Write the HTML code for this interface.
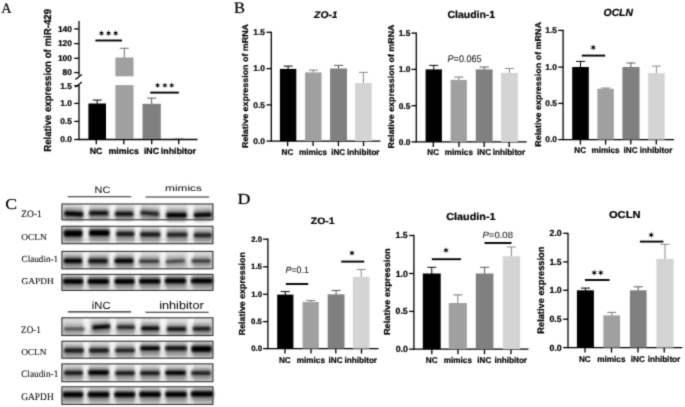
<!DOCTYPE html>
<html><head><meta charset="utf-8"><style>
html,body{margin:0;padding:0;background:#fff;}
svg{display:block;}
text{stroke:#000;stroke-width:0.22px;text-rendering:geometricPrecision;}
</style></head><body>
<svg width="685" height="407" viewBox="0 0 685 407">
<defs><filter id="soft" filterUnits="userSpaceOnUse" x="0" y="0" width="685" height="407" color-interpolation-filters="sRGB"><feConvolveMatrix order="3" kernelMatrix="0.0225 0.105 0.0225 0.105 0.49 0.105 0.0225 0.105 0.0225" edgeMode="duplicate"/></filter></defs>
<g filter="url(#soft)">
<rect width="685" height="407" fill="#fff"/>
<text x="1.16" y="12.90" font-family='"Liberation Serif", serif' font-size="14.55" font-weight="normal" font-style="normal" fill="#000" textLength="10.35" lengthAdjust="spacingAndGlyphs">A</text>
<line x1="79.00" y1="21.10" x2="79.00" y2="75.60" stroke="#000" stroke-width="1.3"/>
<line x1="74.20" y1="28.90" x2="79.00" y2="28.90" stroke="#000" stroke-width="1.3"/>
<line x1="74.20" y1="43.60" x2="79.00" y2="43.60" stroke="#000" stroke-width="1.3"/>
<line x1="74.20" y1="58.30" x2="79.00" y2="58.30" stroke="#000" stroke-width="1.3"/>
<line x1="74.20" y1="72.60" x2="79.00" y2="72.60" stroke="#000" stroke-width="1.3"/>
<text x="57.93" y="31.79" font-family='"Liberation Sans", sans-serif' font-size="8.40" font-weight="bold" font-style="normal" fill="#000">140</text>
<text x="57.93" y="46.49" font-family='"Liberation Sans", sans-serif' font-size="8.40" font-weight="bold" font-style="normal" fill="#000">120</text>
<text x="57.93" y="61.19" font-family='"Liberation Sans", sans-serif' font-size="8.40" font-weight="bold" font-style="normal" fill="#000">100</text>
<text x="62.60" y="75.49" font-family='"Liberation Sans", sans-serif' font-size="8.40" font-weight="bold" font-style="normal" fill="#000">80</text>
<line x1="79.00" y1="84.90" x2="79.00" y2="140.15" stroke="#000" stroke-width="1.3"/>
<line x1="74.20" y1="85.70" x2="79.00" y2="85.70" stroke="#000" stroke-width="1.3"/>
<line x1="74.20" y1="103.40" x2="79.00" y2="103.40" stroke="#000" stroke-width="1.3"/>
<line x1="74.20" y1="121.40" x2="79.00" y2="121.40" stroke="#000" stroke-width="1.3"/>
<line x1="74.20" y1="139.50" x2="79.00" y2="139.50" stroke="#000" stroke-width="1.3"/>
<text x="60.16" y="88.55" font-family='"Liberation Sans", sans-serif' font-size="8.40" font-weight="bold" font-style="normal" fill="#000">1.5</text>
<text x="60.27" y="106.29" font-family='"Liberation Sans", sans-serif' font-size="8.40" font-weight="bold" font-style="normal" fill="#000">1.0</text>
<text x="60.16" y="124.29" font-family='"Liberation Sans", sans-serif' font-size="8.40" font-weight="bold" font-style="normal" fill="#000">0.5</text>
<text x="60.27" y="142.39" font-family='"Liberation Sans", sans-serif' font-size="8.40" font-weight="bold" font-style="normal" fill="#000">0.0</text>
<line x1="75.40" y1="79.50" x2="81.80" y2="74.60" stroke="#000" stroke-width="1.3"/>
<line x1="75.40" y1="87.20" x2="81.80" y2="82.10" stroke="#000" stroke-width="1.3"/>
<line x1="79.00" y1="139.50" x2="197.50" y2="139.50" stroke="#000" stroke-width="1.3"/>
<line x1="96.30" y1="139.50" x2="96.30" y2="144.20" stroke="#000" stroke-width="1.3"/>
<line x1="123.80" y1="139.50" x2="123.80" y2="144.20" stroke="#000" stroke-width="1.3"/>
<line x1="151.70" y1="139.50" x2="151.70" y2="144.20" stroke="#000" stroke-width="1.3"/>
<line x1="178.70" y1="139.50" x2="178.70" y2="144.20" stroke="#000" stroke-width="1.3"/>
<line x1="97.20" y1="100.10" x2="97.20" y2="104.00" stroke="#000000" stroke-width="1.0"/>
<line x1="92.70" y1="100.10" x2="101.70" y2="100.10" stroke="#000000" stroke-width="1.0"/>
<rect x="88.40" y="103.50" width="17.60" height="35.50" fill="#000000"/>
<line x1="124.35" y1="48.30" x2="124.35" y2="58.00" stroke="#7a7a7a" stroke-width="1.1"/>
<line x1="119.80" y1="48.30" x2="128.90" y2="48.30" stroke="#7a7a7a" stroke-width="1.1"/>
<rect x="115.40" y="57.50" width="18.10" height="18.80" fill="#a0a0a0"/>
<rect x="115.40" y="85.10" width="18.10" height="53.90" fill="#a0a0a0"/>
<line x1="151.65" y1="98.10" x2="151.65" y2="104.30" stroke="#5a5a5a" stroke-width="1.0"/>
<line x1="147.15" y1="98.10" x2="156.15" y2="98.10" stroke="#5a5a5a" stroke-width="1.0"/>
<rect x="142.50" y="103.80" width="18.30" height="35.20" fill="#808080"/>
<line x1="174.20" y1="138.30" x2="183.70" y2="138.30" stroke="#999" stroke-width="1.0"/>
<line x1="95.40" y1="40.50" x2="122.00" y2="40.50" stroke="#000" stroke-width="1.9"/>
<line x1="150.20" y1="92.60" x2="178.80" y2="92.60" stroke="#000" stroke-width="1.9"/>
<polygon points="101.50,30.10 100.95,32.35 98.73,31.70 100.40,33.30 98.73,34.90 100.95,34.25 101.50,36.50 102.05,34.25 104.27,34.90 102.60,33.30 104.27,31.70 102.05,32.35" fill="#000"/><polygon points="108.60,30.10 108.05,32.35 105.83,31.70 107.50,33.30 105.83,34.90 108.05,34.25 108.60,36.50 109.15,34.25 111.37,34.90 109.70,33.30 111.37,31.70 109.15,32.35" fill="#000"/><polygon points="115.70,30.10 115.15,32.35 112.93,31.70 114.60,33.30 112.93,34.90 115.15,34.25 115.70,36.50 116.25,34.25 118.47,34.90 116.80,33.30 118.47,31.70 116.25,32.35" fill="#000"/>
<polygon points="157.60,82.20 157.05,84.45 154.83,83.80 156.50,85.40 154.83,87.00 157.05,86.35 157.60,88.60 158.15,86.35 160.37,87.00 158.70,85.40 160.37,83.80 158.15,84.45" fill="#000"/><polygon points="164.90,82.20 164.35,84.45 162.13,83.80 163.80,85.40 162.13,87.00 164.35,86.35 164.90,88.60 165.45,86.35 167.67,87.00 166.00,85.40 167.67,83.80 165.45,84.45" fill="#000"/><polygon points="171.70,82.20 171.15,84.45 168.93,83.80 170.60,85.40 168.93,87.00 171.15,86.35 171.70,88.60 172.25,86.35 174.47,87.00 172.80,85.40 174.47,83.80 172.25,84.45" fill="#000"/>
<text x="89.77" y="154.10" font-family='"Liberation Sans", sans-serif' font-size="8.80" font-weight="bold" font-style="normal" fill="#000">NC</text>
<text x="108.53" y="154.10" font-family='"Liberation Sans", sans-serif' font-size="8.80" font-weight="bold" font-style="normal" fill="#000">mimics</text>
<text x="143.93" y="154.10" font-family='"Liberation Sans", sans-serif' font-size="8.80" font-weight="bold" font-style="normal" fill="#000">iNC</text>
<text x="160.86" y="154.10" font-family='"Liberation Sans", sans-serif' font-size="8.80" font-weight="bold" font-style="normal" fill="#000">inhibitor</text>
<text transform="translate(50.70,151.85) rotate(-90)" x="0" y="0" font-family='"Liberation Sans", sans-serif' font-size="10.17" font-weight="bold" fill="#000" textLength="142.95" lengthAdjust="spacingAndGlyphs">Relative expression of miR-429</text>
<text x="233.92" y="13.15" font-family='"Liberation Serif", serif' font-size="15.96" font-weight="normal" font-style="normal" fill="#000" textLength="10.98" lengthAdjust="spacingAndGlyphs">B</text>
<line x1="271.30" y1="31.65" x2="271.30" y2="141.75" stroke="#000" stroke-width="1.3"/>
<line x1="266.50" y1="32.30" x2="271.30" y2="32.30" stroke="#000" stroke-width="1.3"/>
<line x1="266.50" y1="68.60" x2="271.30" y2="68.60" stroke="#000" stroke-width="1.3"/>
<line x1="266.50" y1="104.90" x2="271.30" y2="104.90" stroke="#000" stroke-width="1.3"/>
<line x1="266.50" y1="141.10" x2="271.30" y2="141.10" stroke="#000" stroke-width="1.3"/>
<line x1="271.30" y1="141.10" x2="380.40" y2="141.10" stroke="#000" stroke-width="1.3"/>
<line x1="287.60" y1="141.10" x2="287.60" y2="146.10" stroke="#000" stroke-width="1.3"/>
<line x1="313.10" y1="141.10" x2="313.10" y2="146.10" stroke="#000" stroke-width="1.3"/>
<line x1="338.40" y1="141.10" x2="338.40" y2="146.10" stroke="#000" stroke-width="1.3"/>
<line x1="363.50" y1="141.10" x2="363.50" y2="146.10" stroke="#000" stroke-width="1.3"/>
<text x="253.26" y="35.15" font-family='"Liberation Sans", sans-serif' font-size="8.40" font-weight="bold" font-style="normal" fill="#000">1.5</text>
<text x="253.37" y="71.49" font-family='"Liberation Sans", sans-serif' font-size="8.40" font-weight="bold" font-style="normal" fill="#000">1.0</text>
<text x="253.26" y="107.79" font-family='"Liberation Sans", sans-serif' font-size="8.40" font-weight="bold" font-style="normal" fill="#000">0.5</text>
<text x="253.37" y="143.99" font-family='"Liberation Sans", sans-serif' font-size="8.40" font-weight="bold" font-style="normal" fill="#000">0.0</text>
<line x1="288.10" y1="66.10" x2="288.10" y2="69.40" stroke="#000000" stroke-width="1.0"/>
<line x1="283.60" y1="66.10" x2="292.60" y2="66.10" stroke="#000000" stroke-width="1.0"/>
<rect x="279.90" y="68.90" width="16.40" height="72.20" fill="#000000"/>
<line x1="313.30" y1="70.10" x2="313.30" y2="72.90" stroke="#7a7a7a" stroke-width="1.0"/>
<line x1="308.80" y1="70.10" x2="317.80" y2="70.10" stroke="#7a7a7a" stroke-width="1.0"/>
<rect x="305.10" y="72.40" width="16.40" height="68.70" fill="#a0a0a0"/>
<line x1="338.55" y1="65.40" x2="338.55" y2="69.00" stroke="#5a5a5a" stroke-width="1.0"/>
<line x1="334.05" y1="65.40" x2="343.05" y2="65.40" stroke="#5a5a5a" stroke-width="1.0"/>
<rect x="330.10" y="68.50" width="16.90" height="72.60" fill="#808080"/>
<line x1="363.40" y1="72.40" x2="363.40" y2="83.50" stroke="#8a8a8a" stroke-width="1.0"/>
<line x1="358.90" y1="72.40" x2="367.90" y2="72.40" stroke="#8a8a8a" stroke-width="1.0"/>
<rect x="355.10" y="83.00" width="16.60" height="58.10" fill="#d4d4d4"/>
<text x="281.55" y="154.60" font-family='"Liberation Sans", sans-serif' font-size="8.40" font-weight="bold" font-style="normal" fill="#000" textLength="11.77" lengthAdjust="spacingAndGlyphs">NC</text>
<text x="298.96" y="154.60" font-family='"Liberation Sans", sans-serif' font-size="8.40" font-weight="bold" font-style="normal" fill="#000" textLength="28.08" lengthAdjust="spacingAndGlyphs">mimics</text>
<text x="331.21" y="154.60" font-family='"Liberation Sans", sans-serif' font-size="8.40" font-weight="bold" font-style="normal" fill="#000" textLength="14.03" lengthAdjust="spacingAndGlyphs">iNC</text>
<text x="346.98" y="154.60" font-family='"Liberation Sans", sans-serif' font-size="8.40" font-weight="bold" font-style="normal" fill="#000" textLength="32.58" lengthAdjust="spacingAndGlyphs">inhibitor</text>
<text x="314.14" y="18.00" font-family='"Liberation Sans", sans-serif' font-size="9.60" font-weight="bold" font-style="italic" fill="#000" textLength="23.42" lengthAdjust="spacingAndGlyphs">ZO-1</text>
<text transform="translate(248.10,148.00) rotate(-90)" x="0" y="0" font-family='"Liberation Sans", sans-serif' font-size="8.43" font-weight="bold" fill="#000" textLength="124.02" lengthAdjust="spacingAndGlyphs">Relative expression of mRNA</text>
<line x1="416.30" y1="32.45" x2="416.30" y2="142.55" stroke="#000" stroke-width="1.3"/>
<line x1="411.50" y1="33.10" x2="416.30" y2="33.10" stroke="#000" stroke-width="1.3"/>
<line x1="411.50" y1="69.40" x2="416.30" y2="69.40" stroke="#000" stroke-width="1.3"/>
<line x1="411.50" y1="105.70" x2="416.30" y2="105.70" stroke="#000" stroke-width="1.3"/>
<line x1="411.50" y1="141.90" x2="416.30" y2="141.90" stroke="#000" stroke-width="1.3"/>
<line x1="416.30" y1="141.90" x2="526.70" y2="141.90" stroke="#000" stroke-width="1.3"/>
<line x1="433.30" y1="141.90" x2="433.30" y2="146.90" stroke="#000" stroke-width="1.3"/>
<line x1="459.00" y1="141.90" x2="459.00" y2="146.90" stroke="#000" stroke-width="1.3"/>
<line x1="484.20" y1="141.90" x2="484.20" y2="146.90" stroke="#000" stroke-width="1.3"/>
<line x1="509.20" y1="141.90" x2="509.20" y2="146.90" stroke="#000" stroke-width="1.3"/>
<text x="398.66" y="35.95" font-family='"Liberation Sans", sans-serif' font-size="8.40" font-weight="bold" font-style="normal" fill="#000">1.5</text>
<text x="398.77" y="72.29" font-family='"Liberation Sans", sans-serif' font-size="8.40" font-weight="bold" font-style="normal" fill="#000">1.0</text>
<text x="398.66" y="108.59" font-family='"Liberation Sans", sans-serif' font-size="8.40" font-weight="bold" font-style="normal" fill="#000">0.5</text>
<text x="398.77" y="144.79" font-family='"Liberation Sans", sans-serif' font-size="8.40" font-weight="bold" font-style="normal" fill="#000">0.0</text>
<line x1="433.75" y1="65.40" x2="433.75" y2="69.90" stroke="#000000" stroke-width="1.0"/>
<line x1="429.25" y1="65.40" x2="438.25" y2="65.40" stroke="#000000" stroke-width="1.0"/>
<rect x="425.60" y="69.40" width="16.30" height="72.50" fill="#000000"/>
<line x1="458.75" y1="77.10" x2="458.75" y2="80.40" stroke="#7a7a7a" stroke-width="1.0"/>
<line x1="454.25" y1="77.10" x2="463.25" y2="77.10" stroke="#7a7a7a" stroke-width="1.0"/>
<rect x="450.60" y="79.90" width="16.30" height="62.00" fill="#a0a0a0"/>
<line x1="484.20" y1="67.00" x2="484.20" y2="69.90" stroke="#5a5a5a" stroke-width="1.0"/>
<line x1="479.70" y1="67.00" x2="488.70" y2="67.00" stroke="#5a5a5a" stroke-width="1.0"/>
<rect x="475.80" y="69.40" width="16.80" height="72.50" fill="#808080"/>
<line x1="509.45" y1="68.50" x2="509.45" y2="73.40" stroke="#8a8a8a" stroke-width="1.0"/>
<line x1="504.95" y1="68.50" x2="513.95" y2="68.50" stroke="#8a8a8a" stroke-width="1.0"/>
<rect x="501.00" y="72.90" width="16.90" height="69.00" fill="#d4d4d4"/>
<text x="427.25" y="155.40" font-family='"Liberation Sans", sans-serif' font-size="8.40" font-weight="bold" font-style="normal" fill="#000" textLength="11.77" lengthAdjust="spacingAndGlyphs">NC</text>
<text x="444.86" y="155.40" font-family='"Liberation Sans", sans-serif' font-size="8.40" font-weight="bold" font-style="normal" fill="#000" textLength="28.08" lengthAdjust="spacingAndGlyphs">mimics</text>
<text x="477.01" y="155.40" font-family='"Liberation Sans", sans-serif' font-size="8.40" font-weight="bold" font-style="normal" fill="#000" textLength="14.03" lengthAdjust="spacingAndGlyphs">iNC</text>
<text x="492.68" y="155.40" font-family='"Liberation Sans", sans-serif' font-size="8.40" font-weight="bold" font-style="normal" fill="#000" textLength="32.58" lengthAdjust="spacingAndGlyphs">inhibitor</text>
<text x="447.47" y="18.00" font-family='"Liberation Sans", sans-serif' font-size="10.20" font-weight="bold" font-style="normal" fill="#000" textLength="47.72" lengthAdjust="spacingAndGlyphs">Claudin-1</text>
<text transform="translate(393.70,148.40) rotate(-90)" x="0" y="0" font-family='"Liberation Sans", sans-serif' font-size="8.43" font-weight="bold" fill="#000" textLength="123.92" lengthAdjust="spacingAndGlyphs">Relative expression of mRNA</text>
<text style="stroke-width:0.08px" x="447.57" y="61.75" font-family='"Liberation Sans", sans-serif' font-size="9.75" font-style="italic" fill="#222" textLength="6.04" lengthAdjust="spacingAndGlyphs">P</text><text style="stroke-width:0.08px" x="453.61" y="61.75" font-family='"Liberation Sans", sans-serif' font-size="9.75" fill="#222" textLength="27.93" lengthAdjust="spacingAndGlyphs">=0.065</text>
<line x1="563.10" y1="29.75" x2="563.10" y2="140.25" stroke="#000" stroke-width="1.3"/>
<line x1="558.30" y1="30.40" x2="563.10" y2="30.40" stroke="#000" stroke-width="1.3"/>
<line x1="558.30" y1="67.10" x2="563.10" y2="67.10" stroke="#000" stroke-width="1.3"/>
<line x1="558.30" y1="103.40" x2="563.10" y2="103.40" stroke="#000" stroke-width="1.3"/>
<line x1="558.30" y1="139.60" x2="563.10" y2="139.60" stroke="#000" stroke-width="1.3"/>
<line x1="563.10" y1="139.60" x2="674.00" y2="139.60" stroke="#000" stroke-width="1.3"/>
<line x1="580.40" y1="139.60" x2="580.40" y2="144.60" stroke="#000" stroke-width="1.3"/>
<line x1="605.60" y1="139.60" x2="605.60" y2="144.60" stroke="#000" stroke-width="1.3"/>
<line x1="630.80" y1="139.60" x2="630.80" y2="144.60" stroke="#000" stroke-width="1.3"/>
<line x1="656.30" y1="139.60" x2="656.30" y2="144.60" stroke="#000" stroke-width="1.3"/>
<text x="545.26" y="33.25" font-family='"Liberation Sans", sans-serif' font-size="8.40" font-weight="bold" font-style="normal" fill="#000">1.5</text>
<text x="545.37" y="69.99" font-family='"Liberation Sans", sans-serif' font-size="8.40" font-weight="bold" font-style="normal" fill="#000">1.0</text>
<text x="545.26" y="106.29" font-family='"Liberation Sans", sans-serif' font-size="8.40" font-weight="bold" font-style="normal" fill="#000">0.5</text>
<text x="545.37" y="142.49" font-family='"Liberation Sans", sans-serif' font-size="8.40" font-weight="bold" font-style="normal" fill="#000">0.0</text>
<line x1="580.50" y1="61.40" x2="580.50" y2="67.50" stroke="#000000" stroke-width="1.0"/>
<line x1="576.00" y1="61.40" x2="585.00" y2="61.40" stroke="#000000" stroke-width="1.0"/>
<rect x="572.20" y="67.00" width="16.60" height="72.60" fill="#000000"/>
<line x1="605.60" y1="88.10" x2="605.60" y2="89.20" stroke="#7a7a7a" stroke-width="1.0"/>
<line x1="601.10" y1="88.10" x2="610.10" y2="88.10" stroke="#7a7a7a" stroke-width="1.0"/>
<rect x="597.40" y="88.70" width="16.40" height="50.90" fill="#a0a0a0"/>
<line x1="630.95" y1="63.00" x2="630.95" y2="67.50" stroke="#5a5a5a" stroke-width="1.0"/>
<line x1="626.45" y1="63.00" x2="635.45" y2="63.00" stroke="#5a5a5a" stroke-width="1.0"/>
<rect x="622.40" y="67.00" width="17.10" height="72.60" fill="#808080"/>
<line x1="656.40" y1="66.10" x2="656.40" y2="73.60" stroke="#8a8a8a" stroke-width="1.0"/>
<line x1="651.90" y1="66.10" x2="660.90" y2="66.10" stroke="#8a8a8a" stroke-width="1.0"/>
<rect x="648.10" y="73.10" width="16.60" height="66.50" fill="#d4d4d4"/>
<text x="574.35" y="153.20" font-family='"Liberation Sans", sans-serif' font-size="8.40" font-weight="bold" font-style="normal" fill="#000" textLength="11.77" lengthAdjust="spacingAndGlyphs">NC</text>
<text x="591.46" y="153.20" font-family='"Liberation Sans", sans-serif' font-size="8.40" font-weight="bold" font-style="normal" fill="#000" textLength="28.08" lengthAdjust="spacingAndGlyphs">mimics</text>
<text x="623.61" y="153.20" font-family='"Liberation Sans", sans-serif' font-size="8.40" font-weight="bold" font-style="normal" fill="#000" textLength="14.03" lengthAdjust="spacingAndGlyphs">iNC</text>
<text x="639.78" y="153.20" font-family='"Liberation Sans", sans-serif' font-size="8.40" font-weight="bold" font-style="normal" fill="#000" textLength="32.58" lengthAdjust="spacingAndGlyphs">inhibitor</text>
<text x="603.59" y="16.20" font-family='"Liberation Sans", sans-serif' font-size="10.31" font-weight="bold" font-style="italic" fill="#000" textLength="29.33" lengthAdjust="spacingAndGlyphs">OCLN</text>
<text transform="translate(540.50,146.80) rotate(-90)" x="0" y="0" font-family='"Liberation Sans", sans-serif' font-size="8.43" font-weight="bold" fill="#000" textLength="124.73" lengthAdjust="spacingAndGlyphs">Relative expression of mRNA</text>
<line x1="581.80" y1="55.60" x2="605.10" y2="55.60" stroke="#000" stroke-width="1.9"/>
<polygon points="593.20,44.10 592.62,46.40 590.34,45.75 592.05,47.40 590.34,49.05 592.62,48.40 593.20,50.70 593.78,48.40 596.06,49.05 594.35,47.40 596.06,45.75 593.78,46.40" fill="#000"/>
<text x="237.58" y="203.67" font-family='"Liberation Serif", serif' font-size="15.37" font-weight="normal" font-style="normal" fill="#000" textLength="12.94" lengthAdjust="spacingAndGlyphs">D</text>
<line x1="267.90" y1="238.55" x2="267.90" y2="349.25" stroke="#000" stroke-width="1.3"/>
<line x1="263.10" y1="239.20" x2="267.90" y2="239.20" stroke="#000" stroke-width="1.3"/>
<line x1="263.10" y1="266.80" x2="267.90" y2="266.80" stroke="#000" stroke-width="1.3"/>
<line x1="263.10" y1="294.30" x2="267.90" y2="294.30" stroke="#000" stroke-width="1.3"/>
<line x1="263.10" y1="321.60" x2="267.90" y2="321.60" stroke="#000" stroke-width="1.3"/>
<line x1="263.10" y1="348.60" x2="267.90" y2="348.60" stroke="#000" stroke-width="1.3"/>
<line x1="267.90" y1="348.60" x2="378.50" y2="348.60" stroke="#000" stroke-width="1.3"/>
<line x1="285.00" y1="348.60" x2="285.00" y2="353.60" stroke="#000" stroke-width="1.3"/>
<line x1="311.00" y1="348.60" x2="311.00" y2="353.60" stroke="#000" stroke-width="1.3"/>
<line x1="335.80" y1="348.60" x2="335.80" y2="353.60" stroke="#000" stroke-width="1.3"/>
<line x1="361.50" y1="348.60" x2="361.50" y2="353.60" stroke="#000" stroke-width="1.3"/>
<text x="251.18" y="241.88" font-family='"Liberation Sans", sans-serif' font-size="7.80" font-weight="bold" font-style="normal" fill="#000">2.0</text>
<text x="251.08" y="269.44" font-family='"Liberation Sans", sans-serif' font-size="7.80" font-weight="bold" font-style="normal" fill="#000">1.5</text>
<text x="251.18" y="296.98" font-family='"Liberation Sans", sans-serif' font-size="7.80" font-weight="bold" font-style="normal" fill="#000">1.0</text>
<text x="251.08" y="324.28" font-family='"Liberation Sans", sans-serif' font-size="7.80" font-weight="bold" font-style="normal" fill="#000">0.5</text>
<text x="251.18" y="351.28" font-family='"Liberation Sans", sans-serif' font-size="7.80" font-weight="bold" font-style="normal" fill="#000">0.0</text>
<line x1="285.30" y1="291.60" x2="285.30" y2="295.10" stroke="#000000" stroke-width="1.0"/>
<line x1="280.80" y1="291.60" x2="289.80" y2="291.60" stroke="#000000" stroke-width="1.0"/>
<rect x="277.20" y="294.60" width="16.20" height="54.00" fill="#000000"/>
<line x1="310.70" y1="300.50" x2="310.70" y2="302.40" stroke="#7a7a7a" stroke-width="1.0"/>
<line x1="306.20" y1="300.50" x2="315.20" y2="300.50" stroke="#7a7a7a" stroke-width="1.0"/>
<rect x="302.60" y="301.90" width="16.20" height="46.70" fill="#a0a0a0"/>
<line x1="336.10" y1="290.50" x2="336.10" y2="294.80" stroke="#5a5a5a" stroke-width="1.0"/>
<line x1="331.60" y1="290.50" x2="340.60" y2="290.50" stroke="#5a5a5a" stroke-width="1.0"/>
<rect x="327.70" y="294.30" width="16.80" height="54.30" fill="#808080"/>
<line x1="361.20" y1="269.50" x2="361.20" y2="277.30" stroke="#8a8a8a" stroke-width="1.0"/>
<line x1="356.70" y1="269.50" x2="365.70" y2="269.50" stroke="#8a8a8a" stroke-width="1.0"/>
<rect x="352.80" y="276.80" width="16.80" height="71.80" fill="#d4d4d4"/>
<text x="278.95" y="362.90" font-family='"Liberation Sans", sans-serif' font-size="8.40" font-weight="bold" font-style="normal" fill="#000" textLength="11.77" lengthAdjust="spacingAndGlyphs">NC</text>
<text x="296.86" y="362.90" font-family='"Liberation Sans", sans-serif' font-size="8.40" font-weight="bold" font-style="normal" fill="#000" textLength="28.08" lengthAdjust="spacingAndGlyphs">mimics</text>
<text x="328.61" y="362.90" font-family='"Liberation Sans", sans-serif' font-size="8.40" font-weight="bold" font-style="normal" fill="#000" textLength="14.03" lengthAdjust="spacingAndGlyphs">iNC</text>
<text x="344.48" y="362.90" font-family='"Liberation Sans", sans-serif' font-size="8.40" font-weight="bold" font-style="normal" fill="#000" textLength="32.58" lengthAdjust="spacingAndGlyphs">inhibitor</text>
<text x="310.79" y="224.41" font-family='"Liberation Sans", sans-serif' font-size="9.32" font-weight="bold" font-style="normal" fill="#000" textLength="23.91" lengthAdjust="spacingAndGlyphs">ZO-1</text>
<text transform="translate(244.90,335.19) rotate(-90)" x="0" y="0" font-family='"Liberation Sans", sans-serif' font-size="8.72" font-weight="bold" fill="#000" textLength="83.04" lengthAdjust="spacingAndGlyphs">Relative expression</text>
<text style="stroke-width:0.08px" x="285.58" y="272.86" font-family='"Liberation Sans", sans-serif' font-size="9.18" font-style="italic" fill="#222" textLength="5.89" lengthAdjust="spacingAndGlyphs">P</text><text style="stroke-width:0.08px" x="291.46" y="272.86" font-family='"Liberation Sans", sans-serif' font-size="9.18" fill="#222" textLength="17.42" lengthAdjust="spacingAndGlyphs">=0.1</text>
<line x1="285.80" y1="284.00" x2="308.20" y2="284.00" stroke="#000" stroke-width="1.9"/>
<polygon points="352.00,249.70 351.43,252.00 349.14,251.35 350.85,253.00 349.14,254.65 351.43,254.00 352.00,256.30 352.57,254.00 354.86,254.65 353.15,253.00 354.86,251.35 352.57,252.00" fill="#000"/>
<line x1="341.20" y1="261.60" x2="364.20" y2="261.60" stroke="#000" stroke-width="1.9"/>
<line x1="413.90" y1="234.85" x2="413.90" y2="349.85" stroke="#000" stroke-width="1.3"/>
<line x1="409.10" y1="235.50" x2="413.90" y2="235.50" stroke="#000" stroke-width="1.3"/>
<line x1="409.10" y1="273.50" x2="413.90" y2="273.50" stroke="#000" stroke-width="1.3"/>
<line x1="409.10" y1="311.40" x2="413.90" y2="311.40" stroke="#000" stroke-width="1.3"/>
<line x1="409.10" y1="349.20" x2="413.90" y2="349.20" stroke="#000" stroke-width="1.3"/>
<line x1="413.90" y1="349.20" x2="528.50" y2="349.20" stroke="#000" stroke-width="1.3"/>
<line x1="431.80" y1="349.20" x2="431.80" y2="354.20" stroke="#000" stroke-width="1.3"/>
<line x1="458.00" y1="349.20" x2="458.00" y2="354.20" stroke="#000" stroke-width="1.3"/>
<line x1="484.50" y1="349.20" x2="484.50" y2="354.20" stroke="#000" stroke-width="1.3"/>
<line x1="511.00" y1="349.20" x2="511.00" y2="354.20" stroke="#000" stroke-width="1.3"/>
<text x="395.51" y="238.48" font-family='"Liberation Sans", sans-serif' font-size="8.80" font-weight="bold" font-style="normal" fill="#000">1.5</text>
<text x="395.63" y="276.53" font-family='"Liberation Sans", sans-serif' font-size="8.80" font-weight="bold" font-style="normal" fill="#000">1.0</text>
<text x="395.51" y="314.43" font-family='"Liberation Sans", sans-serif' font-size="8.80" font-weight="bold" font-style="normal" fill="#000">0.5</text>
<text x="395.63" y="352.23" font-family='"Liberation Sans", sans-serif' font-size="8.80" font-weight="bold" font-style="normal" fill="#000">0.0</text>
<line x1="431.75" y1="267.30" x2="431.75" y2="274.00" stroke="#000000" stroke-width="1.0"/>
<line x1="427.25" y1="267.30" x2="436.25" y2="267.30" stroke="#000000" stroke-width="1.0"/>
<rect x="422.80" y="273.50" width="17.90" height="75.70" fill="#000000"/>
<line x1="457.85" y1="294.90" x2="457.85" y2="303.50" stroke="#7a7a7a" stroke-width="1.0"/>
<line x1="453.35" y1="294.90" x2="462.35" y2="294.90" stroke="#7a7a7a" stroke-width="1.0"/>
<rect x="448.80" y="303.00" width="18.10" height="46.20" fill="#a0a0a0"/>
<line x1="484.60" y1="267.30" x2="484.60" y2="274.00" stroke="#5a5a5a" stroke-width="1.0"/>
<line x1="480.10" y1="267.30" x2="489.10" y2="267.30" stroke="#5a5a5a" stroke-width="1.0"/>
<rect x="475.80" y="273.50" width="17.60" height="75.70" fill="#808080"/>
<line x1="511.45" y1="247.00" x2="511.45" y2="256.70" stroke="#8a8a8a" stroke-width="1.0"/>
<line x1="506.95" y1="247.00" x2="515.95" y2="247.00" stroke="#8a8a8a" stroke-width="1.0"/>
<rect x="502.80" y="256.20" width="17.30" height="93.00" fill="#d4d4d4"/>
<text x="425.75" y="363.30" font-family='"Liberation Sans", sans-serif' font-size="8.40" font-weight="bold" font-style="normal" fill="#000" textLength="11.77" lengthAdjust="spacingAndGlyphs">NC</text>
<text x="443.86" y="363.30" font-family='"Liberation Sans", sans-serif' font-size="8.40" font-weight="bold" font-style="normal" fill="#000" textLength="28.08" lengthAdjust="spacingAndGlyphs">mimics</text>
<text x="477.31" y="363.30" font-family='"Liberation Sans", sans-serif' font-size="8.40" font-weight="bold" font-style="normal" fill="#000" textLength="14.03" lengthAdjust="spacingAndGlyphs">iNC</text>
<text x="494.48" y="363.30" font-family='"Liberation Sans", sans-serif' font-size="8.40" font-weight="bold" font-style="normal" fill="#000" textLength="32.58" lengthAdjust="spacingAndGlyphs">inhibitor</text>
<text x="446.26" y="219.80" font-family='"Liberation Sans", sans-serif' font-size="10.07" font-weight="bold" font-style="normal" fill="#000" textLength="49.24" lengthAdjust="spacingAndGlyphs">Claudin-1</text>
<text transform="translate(389.50,335.12) rotate(-90)" x="0" y="0" font-family='"Liberation Sans", sans-serif' font-size="8.72" font-weight="bold" fill="#000" textLength="86.79" lengthAdjust="spacingAndGlyphs">Relative expression</text>
<polygon points="446.00,247.00 445.43,249.30 443.14,248.65 444.85,250.30 443.14,251.95 445.43,251.30 446.00,253.60 446.57,251.30 448.86,251.95 447.15,250.30 448.86,248.65 446.57,249.30" fill="#000"/>
<line x1="431.80" y1="259.20" x2="461.00" y2="259.20" stroke="#000" stroke-width="1.9"/>
<text style="stroke-width:0.08px" x="482.45" y="237.96" font-family='"Liberation Sans", sans-serif' font-size="9.04" font-style="italic" fill="#222" textLength="6.36" lengthAdjust="spacingAndGlyphs">P</text><text style="stroke-width:0.08px" x="488.82" y="237.96" font-family='"Liberation Sans", sans-serif' font-size="9.04" fill="#222" textLength="24.14" lengthAdjust="spacingAndGlyphs">=0.08</text>
<line x1="484.50" y1="243.00" x2="511.50" y2="243.00" stroke="#000" stroke-width="1.9"/>
<line x1="568.00" y1="232.65" x2="568.00" y2="348.25" stroke="#000" stroke-width="1.3"/>
<line x1="563.20" y1="233.30" x2="568.00" y2="233.30" stroke="#000" stroke-width="1.3"/>
<line x1="563.20" y1="261.90" x2="568.00" y2="261.90" stroke="#000" stroke-width="1.3"/>
<line x1="563.20" y1="290.30" x2="568.00" y2="290.30" stroke="#000" stroke-width="1.3"/>
<line x1="563.20" y1="319.20" x2="568.00" y2="319.20" stroke="#000" stroke-width="1.3"/>
<line x1="563.20" y1="347.60" x2="568.00" y2="347.60" stroke="#000" stroke-width="1.3"/>
<line x1="568.00" y1="347.60" x2="682.30" y2="347.60" stroke="#000" stroke-width="1.3"/>
<line x1="585.00" y1="347.60" x2="585.00" y2="352.60" stroke="#000" stroke-width="1.3"/>
<line x1="611.50" y1="347.60" x2="611.50" y2="352.60" stroke="#000" stroke-width="1.3"/>
<line x1="638.00" y1="347.60" x2="638.00" y2="352.60" stroke="#000" stroke-width="1.3"/>
<line x1="664.20" y1="347.60" x2="664.20" y2="352.60" stroke="#000" stroke-width="1.3"/>
<text x="549.53" y="236.33" font-family='"Liberation Sans", sans-serif' font-size="8.80" font-weight="bold" font-style="normal" fill="#000">2.0</text>
<text x="549.41" y="264.88" font-family='"Liberation Sans", sans-serif' font-size="8.80" font-weight="bold" font-style="normal" fill="#000">1.5</text>
<text x="549.53" y="293.33" font-family='"Liberation Sans", sans-serif' font-size="8.80" font-weight="bold" font-style="normal" fill="#000">1.0</text>
<text x="549.41" y="322.23" font-family='"Liberation Sans", sans-serif' font-size="8.80" font-weight="bold" font-style="normal" fill="#000">0.5</text>
<text x="549.53" y="350.63" font-family='"Liberation Sans", sans-serif' font-size="8.80" font-weight="bold" font-style="normal" fill="#000">0.0</text>
<line x1="585.40" y1="288.10" x2="585.40" y2="290.80" stroke="#000000" stroke-width="1.0"/>
<line x1="580.90" y1="288.10" x2="589.90" y2="288.10" stroke="#000000" stroke-width="1.0"/>
<rect x="576.90" y="290.30" width="17.00" height="57.30" fill="#000000"/>
<line x1="611.75" y1="312.40" x2="611.75" y2="315.90" stroke="#7a7a7a" stroke-width="1.0"/>
<line x1="607.25" y1="312.40" x2="616.25" y2="312.40" stroke="#7a7a7a" stroke-width="1.0"/>
<rect x="603.40" y="315.40" width="16.70" height="32.20" fill="#a0a0a0"/>
<line x1="638.25" y1="286.80" x2="638.25" y2="290.80" stroke="#5a5a5a" stroke-width="1.0"/>
<line x1="633.75" y1="286.80" x2="642.75" y2="286.80" stroke="#5a5a5a" stroke-width="1.0"/>
<rect x="629.90" y="290.30" width="16.70" height="57.30" fill="#808080"/>
<line x1="665.00" y1="244.30" x2="665.00" y2="259.40" stroke="#8a8a8a" stroke-width="1.0"/>
<line x1="660.50" y1="244.30" x2="669.50" y2="244.30" stroke="#8a8a8a" stroke-width="1.0"/>
<rect x="656.40" y="258.90" width="17.20" height="88.70" fill="#d4d4d4"/>
<text x="578.95" y="361.70" font-family='"Liberation Sans", sans-serif' font-size="8.40" font-weight="bold" font-style="normal" fill="#000" textLength="11.77" lengthAdjust="spacingAndGlyphs">NC</text>
<text x="597.36" y="361.70" font-family='"Liberation Sans", sans-serif' font-size="8.40" font-weight="bold" font-style="normal" fill="#000" textLength="28.08" lengthAdjust="spacingAndGlyphs">mimics</text>
<text x="630.81" y="361.70" font-family='"Liberation Sans", sans-serif' font-size="8.40" font-weight="bold" font-style="normal" fill="#000" textLength="14.03" lengthAdjust="spacingAndGlyphs">iNC</text>
<text x="647.68" y="361.70" font-family='"Liberation Sans", sans-serif' font-size="8.40" font-weight="bold" font-style="normal" fill="#000" textLength="32.58" lengthAdjust="spacingAndGlyphs">inhibitor</text>
<text x="608.94" y="218.20" font-family='"Liberation Sans", sans-serif' font-size="10.03" font-weight="bold" font-style="normal" fill="#000" textLength="31.61" lengthAdjust="spacingAndGlyphs">OCLN</text>
<text transform="translate(544.10,333.72) rotate(-90)" x="0" y="0" font-family='"Liberation Sans", sans-serif' font-size="9.45" font-weight="bold" fill="#000" textLength="87.09" lengthAdjust="spacingAndGlyphs">Relative expression</text>
<polygon points="594.20,269.40 593.62,271.70 591.34,271.05 593.05,272.70 591.34,274.35 593.62,273.70 594.20,276.00 594.78,273.70 597.06,274.35 595.35,272.70 597.06,271.05 594.78,271.70" fill="#000"/><polygon points="600.80,269.40 600.22,271.70 597.94,271.05 599.65,272.70 597.94,274.35 600.22,273.70 600.80,276.00 601.38,273.70 603.66,274.35 601.95,272.70 603.66,271.05 601.38,271.70" fill="#000"/>
<line x1="585.00" y1="280.00" x2="609.60" y2="280.00" stroke="#000" stroke-width="1.9"/>
<polygon points="651.20,231.60 650.62,233.90 648.34,233.25 650.05,234.90 648.34,236.55 650.62,235.90 651.20,238.20 651.78,235.90 654.06,236.55 652.35,234.90 654.06,233.25 651.78,233.90" fill="#000"/>
<line x1="639.90" y1="241.60" x2="663.40" y2="241.60" stroke="#000" stroke-width="1.9"/>
<text x="5.37" y="209.15" font-family='"Liberation Serif", serif' font-size="15.03" font-weight="normal" font-style="normal" fill="#000" textLength="11.80" lengthAdjust="spacingAndGlyphs">C</text>
<defs>
<linearGradient id="lanes" x1="61" x2="214" y1="0" y2="0" gradientUnits="userSpaceOnUse">
<stop offset="0" stop-color="#d4d4d4"/>
<stop offset="0.012" stop-color="#d0d0d0"/>
<stop offset="0.135" stop-color="#d4d4d4"/>
<stop offset="0.153" stop-color="#f2f2f2"/>
<stop offset="0.177" stop-color="#f2f2f2"/>
<stop offset="0.195" stop-color="#d4d4d4"/>
<stop offset="0.310" stop-color="#d4d4d4"/>
<stop offset="0.328" stop-color="#f2f2f2"/>
<stop offset="0.352" stop-color="#f2f2f2"/>
<stop offset="0.370" stop-color="#d4d4d4"/>
<stop offset="0.472" stop-color="#d4d4d4"/>
<stop offset="0.490" stop-color="#f2f2f2"/>
<stop offset="0.514" stop-color="#f2f2f2"/>
<stop offset="0.532" stop-color="#d4d4d4"/>
<stop offset="0.638" stop-color="#d4d4d4"/>
<stop offset="0.656" stop-color="#f2f2f2"/>
<stop offset="0.680" stop-color="#f2f2f2"/>
<stop offset="0.698" stop-color="#d4d4d4"/>
<stop offset="0.818" stop-color="#d4d4d4"/>
<stop offset="0.836" stop-color="#f2f2f2"/>
<stop offset="0.860" stop-color="#f2f2f2"/>
<stop offset="0.878" stop-color="#d4d4d4"/>
<stop offset="0.988" stop-color="#d0d0d0"/>
<stop offset="1" stop-color="#d0d0d0"/>
</linearGradient>
<linearGradient id="vshade" x1="0" x2="0" y1="0" y2="1">
<stop offset="0" stop-color="#fff" stop-opacity="0.25"/>
<stop offset="0.35" stop-color="#fff" stop-opacity="0"/>
<stop offset="0.75" stop-color="#000" stop-opacity="0.06"/>
<stop offset="1" stop-color="#000" stop-opacity="0.02"/>
</linearGradient>
<filter id="b1" x="-30%" y="-100%" width="160%" height="300%"><feGaussianBlur stdDeviation="0.85"/></filter>
<filter id="b2" x="-30%" y="-150%" width="160%" height="400%"><feGaussianBlur stdDeviation="1.6"/></filter>
</defs>
<text style="stroke-width:0.1px" x="21.20" y="217.35" font-family='"Liberation Serif", serif' font-size="9.82" font-weight="normal" font-style="normal" fill="#111" textLength="20.52" lengthAdjust="spacingAndGlyphs">ZO-1</text>
<text style="stroke-width:0.1px" x="21.26" y="239.76" font-family='"Liberation Serif", serif' font-size="9.08" font-weight="normal" font-style="normal" fill="#111" textLength="25.60" lengthAdjust="spacingAndGlyphs">OCLN</text>
<text style="stroke-width:0.1px" x="21.57" y="261.86" font-family='"Liberation Serif", serif' font-size="9.38" font-weight="normal" font-style="normal" fill="#111" textLength="36.62" lengthAdjust="spacingAndGlyphs">Claudin-1</text>
<text style="stroke-width:0.1px" x="21.56" y="284.16" font-family='"Liberation Serif", serif' font-size="8.93" font-weight="normal" font-style="normal" fill="#111" textLength="32.36" lengthAdjust="spacingAndGlyphs">GAPDH</text>
<text style="stroke-width:0.1px" x="21.11" y="332.85" font-family='"Liberation Serif", serif' font-size="10.12" font-weight="normal" font-style="normal" fill="#111" textLength="19.79" lengthAdjust="spacingAndGlyphs">ZO-1</text>
<text style="stroke-width:0.1px" x="21.17" y="354.76" font-family='"Liberation Serif", serif' font-size="9.08" font-weight="normal" font-style="normal" fill="#111" textLength="25.30" lengthAdjust="spacingAndGlyphs">OCLN</text>
<text style="stroke-width:0.1px" x="21.17" y="376.95" font-family='"Liberation Serif", serif' font-size="9.80" font-weight="normal" font-style="normal" fill="#111" textLength="37.13" lengthAdjust="spacingAndGlyphs">Claudin-1</text>
<text style="stroke-width:0.1px" x="21.16" y="399.55" font-family='"Liberation Serif", serif' font-size="10.27" font-weight="normal" font-style="normal" fill="#111" textLength="32.56" lengthAdjust="spacingAndGlyphs">GAPDH</text>
<text style="stroke-width:0.05px" x="94.61" y="192.81" font-family='"Liberation Sans", sans-serif' font-size="9.32" font-weight="normal" font-style="normal" fill="#111" textLength="15.71" lengthAdjust="spacingAndGlyphs">NC</text>
<text style="stroke-width:0.05px" x="165.12" y="191.21" font-family='"Liberation Sans", sans-serif' font-size="8.57" font-weight="normal" font-style="normal" fill="#111" textLength="36.71" lengthAdjust="spacingAndGlyphs">mimics</text>
<text style="stroke-width:0.05px" x="91.74" y="308.50" font-family='"Liberation Sans", sans-serif' font-size="10.34" font-weight="normal" font-style="normal" fill="#111" textLength="18.79" lengthAdjust="spacingAndGlyphs">iNC</text>
<text style="stroke-width:0.05px" x="159.15" y="309.09" font-family='"Liberation Sans", sans-serif' font-size="11.16" font-weight="normal" font-style="normal" fill="#111" textLength="44.57" lengthAdjust="spacingAndGlyphs">inhibitor</text>
<line x1="67.70" y1="196.70" x2="131.30" y2="196.70" stroke="#222" stroke-width="1.1"/>
<line x1="145.50" y1="197.00" x2="209.10" y2="197.00" stroke="#222" stroke-width="1.1"/>
<line x1="67.90" y1="311.90" x2="131.10" y2="311.90" stroke="#222" stroke-width="1.1"/>
<line x1="145.50" y1="312.30" x2="208.70" y2="312.30" stroke="#222" stroke-width="1.1"/>
<rect x="61.9" y="204.00" width="151.0" height="15.80" fill="url(#lanes)"/>
<rect x="61.9" y="204.00" width="151.0" height="15.80" fill="url(#vshade)"/>
<rect x="64.00" y="208.10" width="19.50" height="12.80" rx="3" fill="#000" fill-opacity="0.30" filter="url(#b2)" transform="rotate(3 73.75 213.90)"/>
<rect x="88.90" y="207.70" width="19.70" height="12.20" rx="3" fill="#000" fill-opacity="0.28" filter="url(#b2)" transform="rotate(0 98.75 213.20)"/>
<rect x="114.80" y="208.30" width="18.70" height="12.40" rx="3" fill="#000" fill-opacity="0.29" filter="url(#b2)" transform="rotate(0 124.15 213.90)"/>
<rect x="140.30" y="208.10" width="18.90" height="11.80" rx="3" fill="#000" fill-opacity="0.27" filter="url(#b2)" transform="rotate(5 149.75 213.40)"/>
<rect x="166.00" y="209.30" width="20.90" height="12.80" rx="3" fill="#000" fill-opacity="0.30" filter="url(#b2)" transform="rotate(0 176.45 215.10)"/>
<rect x="193.70" y="209.25" width="18.30" height="12.30" rx="3" fill="#000" fill-opacity="0.30" filter="url(#b2)" transform="rotate(-2 202.85 214.80)"/>
<rect x="64.20" y="211.50" width="19.10" height="4.80" rx="1.68" ry="2.40" fill="#050505" filter="url(#b1)" transform="rotate(3 73.75 213.90)"/>
<rect x="89.10" y="211.10" width="19.30" height="4.20" rx="1.47" ry="2.10" fill="#0f0f0f" filter="url(#b1)" transform="rotate(0 98.75 213.20)"/>
<rect x="115.00" y="211.70" width="18.30" height="4.40" rx="1.54" ry="2.20" fill="#080808" filter="url(#b1)" transform="rotate(0 124.15 213.90)"/>
<rect x="140.50" y="211.50" width="18.50" height="3.80" rx="1.33" ry="1.90" fill="#131313" filter="url(#b1)" transform="rotate(5 149.75 213.40)"/>
<rect x="166.20" y="212.70" width="20.50" height="4.80" rx="1.68" ry="2.40" fill="#050505" filter="url(#b1)" transform="rotate(0 176.45 215.10)"/>
<rect x="193.90" y="212.65" width="17.90" height="4.30" rx="1.50" ry="2.15" fill="#050505" filter="url(#b1)" transform="rotate(-2 202.85 214.80)"/>
<rect x="61.9" y="204.00" width="151.0" height="15.80" fill="none" stroke="#333" stroke-width="1.1"/>
<rect x="61.9" y="226.30" width="151.0" height="17.40" fill="url(#lanes)"/>
<rect x="61.9" y="226.30" width="151.0" height="17.40" fill="url(#vshade)"/>
<rect x="63.50" y="226.95" width="19.10" height="14.50" rx="3" fill="#000" fill-opacity="0.30" filter="url(#b2)" transform="rotate(0 73.05 233.60)"/>
<rect x="88.90" y="226.70" width="20.80" height="14.00" rx="3" fill="#000" fill-opacity="0.30" filter="url(#b2)" transform="rotate(0 99.30 233.10)"/>
<rect x="116.00" y="228.40" width="18.50" height="12.40" rx="3" fill="#000" fill-opacity="0.27" filter="url(#b2)" transform="rotate(0 125.25 234.00)"/>
<rect x="140.00" y="228.80" width="20.60" height="12.60" rx="3" fill="#000" fill-opacity="0.26" filter="url(#b2)" transform="rotate(0 150.30 234.50)"/>
<rect x="166.80" y="229.10" width="20.70" height="12.40" rx="3" fill="#000" fill-opacity="0.25" filter="url(#b2)" transform="rotate(0 177.15 234.70)"/>
<rect x="193.60" y="229.60" width="18.40" height="12.40" rx="3" fill="#000" fill-opacity="0.24" filter="url(#b2)" transform="rotate(0 202.80 235.20)"/>
<rect x="63.70" y="230.35" width="18.70" height="6.50" rx="2.27" ry="3.25" fill="#050505" filter="url(#b1)" transform="rotate(0 73.05 233.60)"/>
<rect x="89.10" y="230.10" width="20.40" height="6.00" rx="2.10" ry="3.00" fill="#050505" filter="url(#b1)" transform="rotate(0 99.30 233.10)"/>
<rect x="116.20" y="231.80" width="18.10" height="4.40" rx="1.54" ry="2.20" fill="#131313" filter="url(#b1)" transform="rotate(0 125.25 234.00)"/>
<rect x="140.20" y="232.20" width="20.20" height="4.60" rx="1.61" ry="2.30" fill="#171717" filter="url(#b1)" transform="rotate(0 150.30 234.50)"/>
<rect x="167.00" y="232.50" width="20.30" height="4.40" rx="1.54" ry="2.20" fill="#202020" filter="url(#b1)" transform="rotate(0 177.15 234.70)"/>
<rect x="193.80" y="233.00" width="18.00" height="4.40" rx="1.54" ry="2.20" fill="#222222" filter="url(#b1)" transform="rotate(0 202.80 235.20)"/>
<rect x="61.9" y="226.30" width="151.0" height="17.40" fill="none" stroke="#333" stroke-width="1.1"/>
<rect x="61.9" y="251.40" width="151.0" height="17.40" fill="url(#lanes)"/>
<rect x="61.9" y="251.40" width="151.0" height="17.40" fill="url(#vshade)"/>
<rect x="63.50" y="255.10" width="18.90" height="12.80" rx="3" fill="#000" fill-opacity="0.30" filter="url(#b2)" transform="rotate(0 72.95 260.90)"/>
<rect x="88.10" y="255.25" width="19.90" height="12.50" rx="3" fill="#000" fill-opacity="0.29" filter="url(#b2)" transform="rotate(0 98.05 260.90)"/>
<rect x="114.20" y="255.10" width="19.50" height="12.80" rx="3" fill="#000" fill-opacity="0.30" filter="url(#b2)" transform="rotate(0 123.95 260.90)"/>
<rect x="138.80" y="256.10" width="20.60" height="11.40" rx="3" fill="#000" fill-opacity="0.21" filter="url(#b2)" transform="rotate(0 149.10 261.20)"/>
<rect x="165.60" y="256.30" width="19.50" height="11.00" rx="3" fill="#000" fill-opacity="0.20" filter="url(#b2)" transform="rotate(-3 175.35 261.20)"/>
<rect x="191.30" y="255.90" width="19.50" height="11.40" rx="3" fill="#000" fill-opacity="0.21" filter="url(#b2)" transform="rotate(0 201.05 261.00)"/>
<rect x="63.70" y="258.50" width="18.50" height="4.80" rx="1.68" ry="2.40" fill="#050505" filter="url(#b1)" transform="rotate(0 72.95 260.90)"/>
<rect x="88.30" y="258.65" width="19.50" height="4.50" rx="1.57" ry="2.25" fill="#090909" filter="url(#b1)" transform="rotate(0 98.05 260.90)"/>
<rect x="114.40" y="258.50" width="19.10" height="4.80" rx="1.68" ry="2.40" fill="#050505" filter="url(#b1)" transform="rotate(0 123.95 260.90)"/>
<rect x="139.00" y="259.50" width="20.20" height="3.40" rx="1.19" ry="1.70" fill="#323232" filter="url(#b1)" transform="rotate(0 149.10 261.20)"/>
<rect x="165.80" y="259.70" width="19.10" height="3.00" rx="1.05" ry="1.50" fill="#393939" filter="url(#b1)" transform="rotate(-3 175.35 261.20)"/>
<rect x="191.50" y="259.30" width="19.10" height="3.40" rx="1.19" ry="1.70" fill="#323232" filter="url(#b1)" transform="rotate(0 201.05 261.00)"/>
<rect x="61.9" y="251.40" width="151.0" height="17.40" fill="none" stroke="#333" stroke-width="1.1"/>
<rect x="61.9" y="274.40" width="151.0" height="16.00" fill="url(#lanes)"/>
<rect x="61.9" y="274.40" width="151.0" height="16.00" fill="url(#vshade)"/>
<rect x="62.80" y="275.45" width="20.70" height="13.10" rx="3" fill="#000" fill-opacity="0.30" filter="url(#b2)" transform="rotate(0 73.15 281.40)"/>
<rect x="87.40" y="275.45" width="21.80" height="13.10" rx="3" fill="#000" fill-opacity="0.30" filter="url(#b2)" transform="rotate(0 98.30 281.40)"/>
<rect x="114.20" y="275.45" width="20.70" height="13.10" rx="3" fill="#000" fill-opacity="0.30" filter="url(#b2)" transform="rotate(0 124.55 281.40)"/>
<rect x="138.80" y="275.25" width="21.80" height="13.10" rx="3" fill="#000" fill-opacity="0.30" filter="url(#b2)" transform="rotate(0 149.70 281.20)"/>
<rect x="164.50" y="274.95" width="21.80" height="13.10" rx="3" fill="#000" fill-opacity="0.30" filter="url(#b2)" transform="rotate(0 175.40 280.90)"/>
<rect x="190.60" y="274.86" width="22.60" height="13.28" rx="3" fill="#000" fill-opacity="0.30" filter="url(#b2)" transform="rotate(0 201.90 280.90)"/>
<rect x="63.00" y="278.85" width="20.30" height="5.10" rx="1.79" ry="2.55" fill="#050505" filter="url(#b1)" transform="rotate(0 73.15 281.40)"/>
<rect x="87.60" y="278.85" width="21.40" height="5.10" rx="1.79" ry="2.55" fill="#050505" filter="url(#b1)" transform="rotate(0 98.30 281.40)"/>
<rect x="114.40" y="278.85" width="20.30" height="5.10" rx="1.79" ry="2.55" fill="#050505" filter="url(#b1)" transform="rotate(0 124.55 281.40)"/>
<rect x="139.00" y="278.65" width="21.40" height="5.10" rx="1.79" ry="2.55" fill="#050505" filter="url(#b1)" transform="rotate(0 149.70 281.20)"/>
<rect x="164.70" y="278.35" width="21.40" height="5.10" rx="1.79" ry="2.55" fill="#050505" filter="url(#b1)" transform="rotate(0 175.40 280.90)"/>
<rect x="190.80" y="278.26" width="22.20" height="5.28" rx="1.85" ry="2.64" fill="#050505" filter="url(#b1)" transform="rotate(0 201.90 280.90)"/>
<rect x="61.9" y="274.40" width="151.0" height="16.00" fill="none" stroke="#333" stroke-width="1.1"/>
<rect x="61.9" y="317.80" width="151.0" height="17.70" fill="url(#lanes)"/>
<rect x="61.9" y="317.80" width="151.0" height="17.70" fill="url(#vshade)"/>
<rect x="64.00" y="324.33" width="20.70" height="10.55" rx="3" fill="#000" fill-opacity="0.18" filter="url(#b2)" transform="rotate(0 74.35 329.00)"/>
<rect x="92.00" y="321.65" width="18.40" height="11.91" rx="3" fill="#000" fill-opacity="0.30" filter="url(#b2)" transform="rotate(-4 101.20 327.00)"/>
<rect x="116.60" y="322.20" width="18.40" height="11.40" rx="3" fill="#000" fill-opacity="0.26" filter="url(#b2)" transform="rotate(0 125.80 327.30)"/>
<rect x="141.00" y="323.09" width="18.40" height="11.82" rx="3" fill="#000" fill-opacity="0.30" filter="url(#b2)" transform="rotate(0 150.20 328.40)"/>
<rect x="166.80" y="323.69" width="19.50" height="11.82" rx="3" fill="#000" fill-opacity="0.28" filter="url(#b2)" transform="rotate(0 176.55 329.00)"/>
<rect x="192.50" y="323.62" width="18.30" height="11.57" rx="3" fill="#000" fill-opacity="0.28" filter="url(#b2)" transform="rotate(0 201.65 328.80)"/>
<rect x="64.20" y="327.73" width="20.30" height="2.55" rx="0.89" ry="1.27" fill="#414141" filter="url(#b1)" transform="rotate(0 74.35 329.00)"/>
<rect x="92.20" y="325.05" width="18.00" height="3.91" rx="1.37" ry="1.95" fill="#050505" filter="url(#b1)" transform="rotate(-4 101.20 327.00)"/>
<rect x="116.80" y="325.60" width="18.00" height="3.40" rx="1.19" ry="1.70" fill="#1b1b1b" filter="url(#b1)" transform="rotate(0 125.80 327.30)"/>
<rect x="141.20" y="326.49" width="18.00" height="3.82" rx="1.34" ry="1.91" fill="#050505" filter="url(#b1)" transform="rotate(0 150.20 328.40)"/>
<rect x="167.00" y="327.09" width="19.10" height="3.82" rx="1.34" ry="1.91" fill="#0c0c0c" filter="url(#b1)" transform="rotate(0 176.55 329.00)"/>
<rect x="192.70" y="327.01" width="17.90" height="3.57" rx="1.25" ry="1.78" fill="#0c0c0c" filter="url(#b1)" transform="rotate(0 201.65 328.80)"/>
<rect x="61.9" y="317.80" width="151.0" height="17.70" fill="none" stroke="#333" stroke-width="1.1"/>
<rect x="61.9" y="341.20" width="151.0" height="17.00" fill="url(#lanes)"/>
<rect x="61.9" y="341.20" width="151.0" height="17.00" fill="url(#vshade)"/>
<rect x="64.00" y="345.06" width="20.00" height="12.08" rx="3" fill="#000" fill-opacity="0.28" filter="url(#b2)" transform="rotate(0 74.00 350.50)"/>
<rect x="89.00" y="345.15" width="20.00" height="11.91" rx="3" fill="#000" fill-opacity="0.28" filter="url(#b2)" transform="rotate(0 99.00 350.50)"/>
<rect x="115.00" y="345.03" width="20.00" height="11.74" rx="3" fill="#000" fill-opacity="0.27" filter="url(#b2)" transform="rotate(0 125.00 350.30)"/>
<rect x="140.00" y="342.88" width="20.00" height="12.25" rx="3" fill="#000" fill-opacity="0.30" filter="url(#b2)" transform="rotate(0 150.00 348.40)"/>
<rect x="165.00" y="342.88" width="22.00" height="12.25" rx="3" fill="#000" fill-opacity="0.29" filter="url(#b2)" transform="rotate(0 176.00 348.40)"/>
<rect x="191.00" y="342.62" width="21.00" height="13.95" rx="3" fill="#000" fill-opacity="0.30" filter="url(#b2)" transform="rotate(0 201.50 349.00)"/>
<rect x="64.20" y="348.46" width="19.60" height="4.08" rx="1.43" ry="2.04" fill="#0c0c0c" filter="url(#b1)" transform="rotate(0 74.00 350.50)"/>
<rect x="89.20" y="348.55" width="19.60" height="3.91" rx="1.37" ry="1.95" fill="#0c0c0c" filter="url(#b1)" transform="rotate(0 99.00 350.50)"/>
<rect x="115.20" y="348.43" width="19.60" height="3.74" rx="1.31" ry="1.87" fill="#131313" filter="url(#b1)" transform="rotate(0 125.00 350.30)"/>
<rect x="140.20" y="346.27" width="19.60" height="4.25" rx="1.49" ry="2.12" fill="#050505" filter="url(#b1)" transform="rotate(0 150.00 348.40)"/>
<rect x="165.20" y="346.27" width="21.60" height="4.25" rx="1.49" ry="2.12" fill="#090909" filter="url(#b1)" transform="rotate(0 176.00 348.40)"/>
<rect x="191.20" y="346.02" width="20.60" height="5.95" rx="2.08" ry="2.98" fill="#050505" filter="url(#b1)" transform="rotate(0 201.50 349.00)"/>
<rect x="61.9" y="341.20" width="151.0" height="17.00" fill="none" stroke="#333" stroke-width="1.1"/>
<rect x="61.9" y="363.90" width="151.0" height="17.80" fill="url(#lanes)"/>
<rect x="61.9" y="363.90" width="151.0" height="17.80" fill="url(#vshade)"/>
<rect x="64.00" y="367.55" width="19.00" height="11.91" rx="3" fill="#000" fill-opacity="0.29" filter="url(#b2)" transform="rotate(0 73.50 372.90)"/>
<rect x="88.00" y="366.86" width="21.00" height="12.68" rx="3" fill="#000" fill-opacity="0.30" filter="url(#b2)" transform="rotate(0 98.50 372.60)"/>
<rect x="115.00" y="367.83" width="20.00" height="11.74" rx="3" fill="#000" fill-opacity="0.28" filter="url(#b2)" transform="rotate(0 125.00 373.10)"/>
<rect x="140.00" y="367.83" width="20.00" height="11.74" rx="3" fill="#000" fill-opacity="0.28" filter="url(#b2)" transform="rotate(0 150.00 373.10)"/>
<rect x="165.00" y="367.38" width="21.00" height="12.25" rx="3" fill="#000" fill-opacity="0.30" filter="url(#b2)" transform="rotate(0 175.50 372.90)"/>
<rect x="191.00" y="367.83" width="20.00" height="11.74" rx="3" fill="#000" fill-opacity="0.27" filter="url(#b2)" transform="rotate(0 201.00 373.10)"/>
<rect x="64.20" y="370.94" width="18.60" height="3.91" rx="1.37" ry="1.95" fill="#090909" filter="url(#b1)" transform="rotate(0 73.50 372.90)"/>
<rect x="88.20" y="370.26" width="20.60" height="4.67" rx="1.64" ry="2.34" fill="#050505" filter="url(#b1)" transform="rotate(0 98.50 372.60)"/>
<rect x="115.20" y="371.23" width="19.60" height="3.74" rx="1.31" ry="1.87" fill="#101010" filter="url(#b1)" transform="rotate(0 125.00 373.10)"/>
<rect x="140.20" y="371.23" width="19.60" height="3.74" rx="1.31" ry="1.87" fill="#101010" filter="url(#b1)" transform="rotate(0 150.00 373.10)"/>
<rect x="165.20" y="370.77" width="20.60" height="4.25" rx="1.49" ry="2.12" fill="#050505" filter="url(#b1)" transform="rotate(0 175.50 372.90)"/>
<rect x="191.20" y="371.23" width="19.60" height="3.74" rx="1.31" ry="1.87" fill="#131313" filter="url(#b1)" transform="rotate(0 201.00 373.10)"/>
<rect x="61.9" y="363.90" width="151.0" height="17.80" fill="none" stroke="#333" stroke-width="1.1"/>
<rect x="61.9" y="386.80" width="151.0" height="17.60" fill="url(#lanes)"/>
<rect x="61.9" y="386.80" width="151.0" height="17.60" fill="url(#vshade)"/>
<rect x="62.50" y="388.65" width="21.00" height="13.10" rx="3" fill="#000" fill-opacity="0.30" filter="url(#b2)" transform="rotate(0 73.00 394.60)"/>
<rect x="87.50" y="388.65" width="22.00" height="13.10" rx="3" fill="#000" fill-opacity="0.30" filter="url(#b2)" transform="rotate(0 98.50 394.60)"/>
<rect x="114.00" y="388.65" width="21.50" height="13.10" rx="3" fill="#000" fill-opacity="0.30" filter="url(#b2)" transform="rotate(0 124.75 394.60)"/>
<rect x="139.00" y="388.45" width="22.00" height="13.10" rx="3" fill="#000" fill-opacity="0.30" filter="url(#b2)" transform="rotate(0 150.00 394.40)"/>
<rect x="165.00" y="388.45" width="22.00" height="13.10" rx="3" fill="#000" fill-opacity="0.30" filter="url(#b2)" transform="rotate(0 176.00 394.40)"/>
<rect x="190.50" y="387.88" width="23.00" height="13.44" rx="3" fill="#000" fill-opacity="0.30" filter="url(#b2)" transform="rotate(0 202.00 394.00)"/>
<rect x="62.70" y="392.05" width="20.60" height="5.10" rx="1.78" ry="2.55" fill="#050505" filter="url(#b1)" transform="rotate(0 73.00 394.60)"/>
<rect x="87.70" y="392.05" width="21.60" height="5.10" rx="1.78" ry="2.55" fill="#050505" filter="url(#b1)" transform="rotate(0 98.50 394.60)"/>
<rect x="114.20" y="392.05" width="21.10" height="5.10" rx="1.78" ry="2.55" fill="#050505" filter="url(#b1)" transform="rotate(0 124.75 394.60)"/>
<rect x="139.20" y="391.85" width="21.60" height="5.10" rx="1.78" ry="2.55" fill="#050505" filter="url(#b1)" transform="rotate(0 150.00 394.40)"/>
<rect x="165.20" y="391.85" width="21.60" height="5.10" rx="1.78" ry="2.55" fill="#050505" filter="url(#b1)" transform="rotate(0 176.00 394.40)"/>
<rect x="190.70" y="391.28" width="22.60" height="5.44" rx="1.90" ry="2.72" fill="#050505" filter="url(#b1)" transform="rotate(0 202.00 394.00)"/>
<rect x="61.9" y="386.80" width="151.0" height="17.60" fill="none" stroke="#333" stroke-width="1.1"/>
</g>
</svg>
</body></html>
